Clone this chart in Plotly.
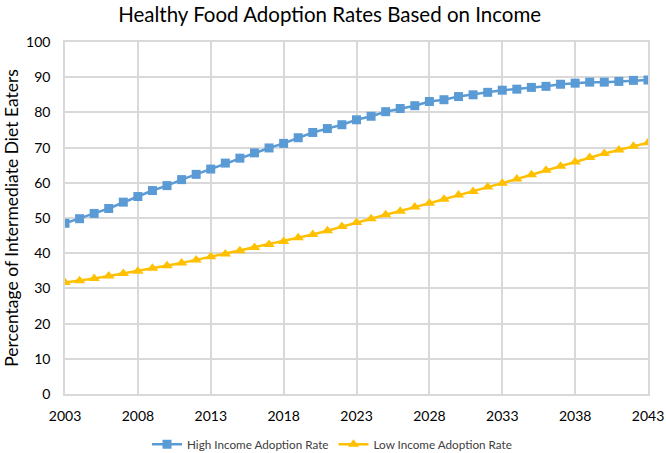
import plotly.graph_objects as go

# Values
years = list(range(2003, 2044))

high_income = [
    48.5, 49.8, 51.3, 52.7, 54.5, 56.1, 57.8, 59.2, 60.9, 62.4,
    63.9, 65.6, 67.0, 68.5, 69.9, 71.2, 72.8, 74.3, 75.4, 76.5,
    77.9, 78.9, 80.2, 81.1, 81.9, 83.1, 83.6, 84.5, 85.0, 85.7,
    86.3, 86.6, 87.1, 87.4, 88.0, 88.3, 88.6, 88.6, 88.8, 89.1,
    89.2,
]

low_income = [
    31.7, 32.2, 32.8, 33.5, 34.2, 34.9, 35.7, 36.4, 37.2, 38.1,
    39.0, 39.8, 40.7, 41.6, 42.5, 43.3, 44.4, 45.3, 46.4, 47.6,
    48.7, 49.8, 50.9, 51.9, 53.1, 54.2, 55.3, 56.5, 57.5, 58.8,
    59.9, 61.1, 62.3, 63.6, 64.7, 65.9, 67.2, 68.3, 69.3, 70.4,
    71.4,
]

x_ticks = [2003, 2008, 2013, 2018, 2023, 2028, 2033, 2038, 2043]
y_ticks = [0, 10, 20, 30, 40, 50, 60, 70, 80, 90, 100]

FONT = "Lato, 'Open Sans', sans-serif"
GRID = "#d9d9d9"

fig = go.Figure()

fig.add_trace(go.Scatter(
    x=years,
    y=high_income,
    mode='lines+markers',
    name='High Income Adoption Rate',
    line=dict(color='#5b9bd5', width=2.5),
    marker=dict(symbol='square', size=9, color='#5b9bd5'),
))

fig.add_trace(go.Scatter(
    x=years,
    y=low_income,
    mode='lines+markers',
    name='Low Income Adoption Rate',
    line=dict(color='#ffc000', width=2.5),
    marker=dict(symbol='triangle-up', size=10, color='#ffc000'),
))

fig.update_layout(
    width=666,
    height=453,
    margin=dict(l=65, r=18, t=42, b=59, autoexpand=False),
    paper_bgcolor='white',
    plot_bgcolor='white',
    font=dict(family=FONT, color='#000000'),
    title=dict(
        text='Healthy Food Adoption Rates Based on Income',
        x=0.495,
        xanchor='center',
        y=0.967,
        yanchor='middle',
        font=dict(size=20.5, family=FONT),
    ),
    legend=dict(
        orientation='h',
        x=0.458,
        xanchor='center',
        y=-0.143,
        yanchor='middle',
        font=dict(size=11.7, color='#404040'),
        itemwidth=30,
    ),
)

fig.update_xaxes(
    range=[2003, 2043],
    tickvals=x_ticks,
    showgrid=True,
    gridcolor=GRID,
    gridwidth=1.5,
    showline=True,
    linecolor=GRID,
    linewidth=1.5,
    mirror=True,
    zeroline=False,
    ticks='',
    ticklabelstandoff=8,
    ticklabeloverflow='allow',
    automargin=False,
    tickfont=dict(size=14),
)

fig.update_yaxes(
    range=[0, 100],
    tickvals=y_ticks,
    showgrid=True,
    gridcolor=GRID,
    gridwidth=1.5,
    showline=True,
    linecolor=GRID,
    linewidth=1.5,
    mirror=True,
    zeroline=False,
    ticks='',
    ticklabelstandoff=10,
    automargin=False,
    tickfont=dict(size=14),
    title=dict(text='Percentage of Intermediate Diet Eaters', font=dict(size=17.5), standoff=3),
)

# drop the default 8px page margin so the figure fills the window exactly
fig.write_html(
    "out.html",
    config={'displayModeBar': False},
    post_script="document.body.style.margin='0';document.body.style.overflow='hidden';",
)
